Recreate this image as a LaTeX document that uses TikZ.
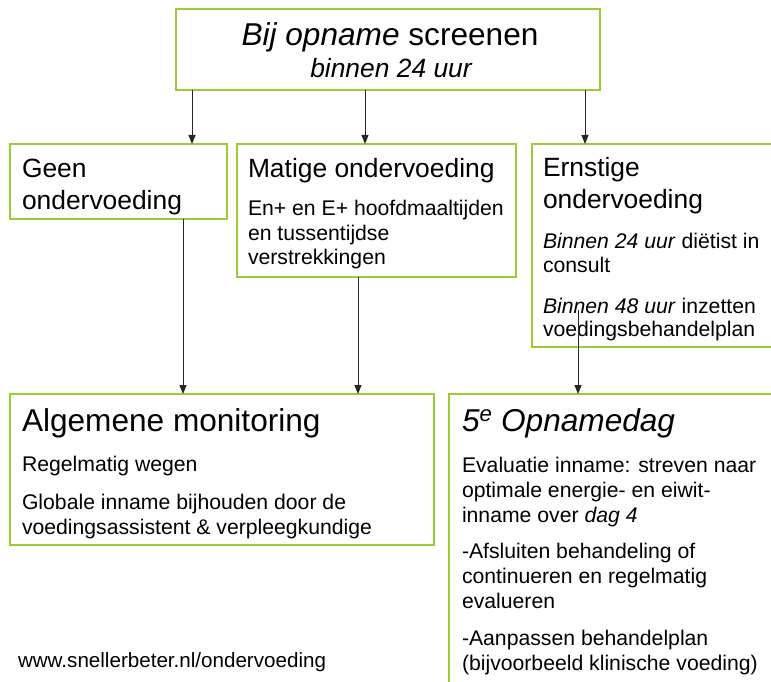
\documentclass[tikz,border=0pt]{standalone}
\usepackage{fontspec}
\setmainfont{Liberation Sans}
\usetikzlibrary{arrows.meta}
\definecolor{boxgreen}{RGB}{154,205,50}
\begin{document}
\begin{tikzpicture}[x=1pt,y=-1pt,
  box/.style={draw=boxgreen, line width=1.4pt, inner sep=0pt, outer sep=0pt, anchor=north west},
  txt/.style={inner sep=0pt, outer sep=0pt, anchor=base west},
  ctxt/.style={inner sep=0pt, outer sep=0pt, anchor=base},
  big/.style={font=\fontsize{31.6}{36}\selectfont},
  head/.style={font=\fontsize{26.4}{32}\selectfont},
  body/.style={font=\fontsize{21.2}{25}\selectfont},
  url/.style={font=\fontsize{20.6}{24}\selectfont},
  arr/.style={draw=black!85, line width=1pt, -{Triangle[length=9pt,width=7pt]}}
]
\useasboundingbox (0,0) rectangle (771,682);
\clip (0,0) rectangle (771,682);
\fill[white] (0,0) rectangle (771,682);

% boxes
\node[box, minimum width=424pt, minimum height=81pt] (top) at (176,9) {};
\node[box, minimum width=217pt, minimum height=75pt] (geen) at (10,144) {};
\node[box, minimum width=279pt, minimum height=133pt] (matige) at (237,144) {};
\node[box, minimum width=258pt, minimum height=203pt] (ernstige) at (532,144) {};
\node[box, minimum width=424pt, minimum height=151pt] (algemene) at (10,394) {};
\node[box, minimum width=341pt, minimum height=320pt] (vijf) at (449,394) {};

% top box text
\node[ctxt, big] (t1) at (390,46) {\itshape Bij opname\/\upshape\ screenen};
\node[ctxt, head] (t2) at (391,78) {\itshape binnen 24 uur};

% geen
\node[txt, head] (g1) at (22,177) {Geen};
\node[txt, head] (g2) at (22,209) {ondervoeding};

% matige
\node[txt, head] (m1) at (248,177) {Matige ondervoeding};
\node[txt, body] (m2) at (248,215) {En+ en E+ hoofdmaaltijden};
\node[txt, body] (m3) at (248,240) {en tussentijdse};
\node[txt, body] (m4) at (248,264) {verstrekkingen};

% ernstige
\node[txt, head] (e1) at (543,176) {Ernstige};
\node[txt, head] (e2) at (543,208) {ondervoeding};
\node[txt, body] (e3) at (543,248) {\textit{Binnen 24 uur} diëtist in};
\node[txt, body] (e4) at (543,272) {consult};
\node[txt, body] (e5) at (543,313) {\textit{Binnen 48 uur} inzetten};
\node[txt, body] (e6) at (543,336) {voedingsbehandelplan};

% algemene
\node[txt, big] (a1) at (22,431) {Algemene monitoring};
\node[txt, body] (a2) at (22,471) {Regelmatig wegen};
\node[txt, body] (a3) at (22,509) {Globale inname bijhouden door de};
\node[txt, body] (a4) at (22,534) {voedingsassistent \& verpleegkundige};

% vijfde opnamedag
\node[txt, big] (v1) at (462,431) {\itshape 5\textsuperscript{e} Opnamedag};
\node[txt, body] (v2) at (462,472) {Evaluatie inname: streven naar};
\node[txt, body] (v3) at (462,497) {optimale energie- en eiwit-};
\node[txt, body] (v4) at (462,522) {inname over \textit{dag 4}};
\node[txt, body] (v5) at (462,558) {-Afsluiten behandeling of};
\node[txt, body] (v6) at (462,583) {continueren en regelmatig};
\node[txt, body] (v7) at (462,608) {evalueren};
\node[txt, body] (v8) at (462,645) {-Aanpassen behandelplan};
\node[txt, body] (v9) at (462,670) {(bijvoorbeeld klinische voeding)};

% url
\node[txt, url] (u) at (18,667) {www.snellerbeter.nl/ondervoeding};

% connectors
\coordinate (c1) at (192,0);
\coordinate (c2) at (365,0);
\coordinate (c3) at (585,0);
\coordinate (c4) at (183,0);
\coordinate (c5) at (358,0);
\coordinate (c6) at (578,310);
\draw[arr] (c1 |- top.south) -- (c1 |- geen.north);
\draw[arr] (c2 |- top.south) -- (c2 |- matige.north);
\draw[arr] (c3 |- top.south) -- (c3 |- ernstige.north);
\draw[arr] (c4 |- geen.south) -- (c4 |- algemene.north);
\draw[arr] (c5 |- matige.south) -- (c5 |- algemene.north);
\draw[arr] (c6) -- (c6 |- vijf.north);
\end{tikzpicture}
\end{document}
